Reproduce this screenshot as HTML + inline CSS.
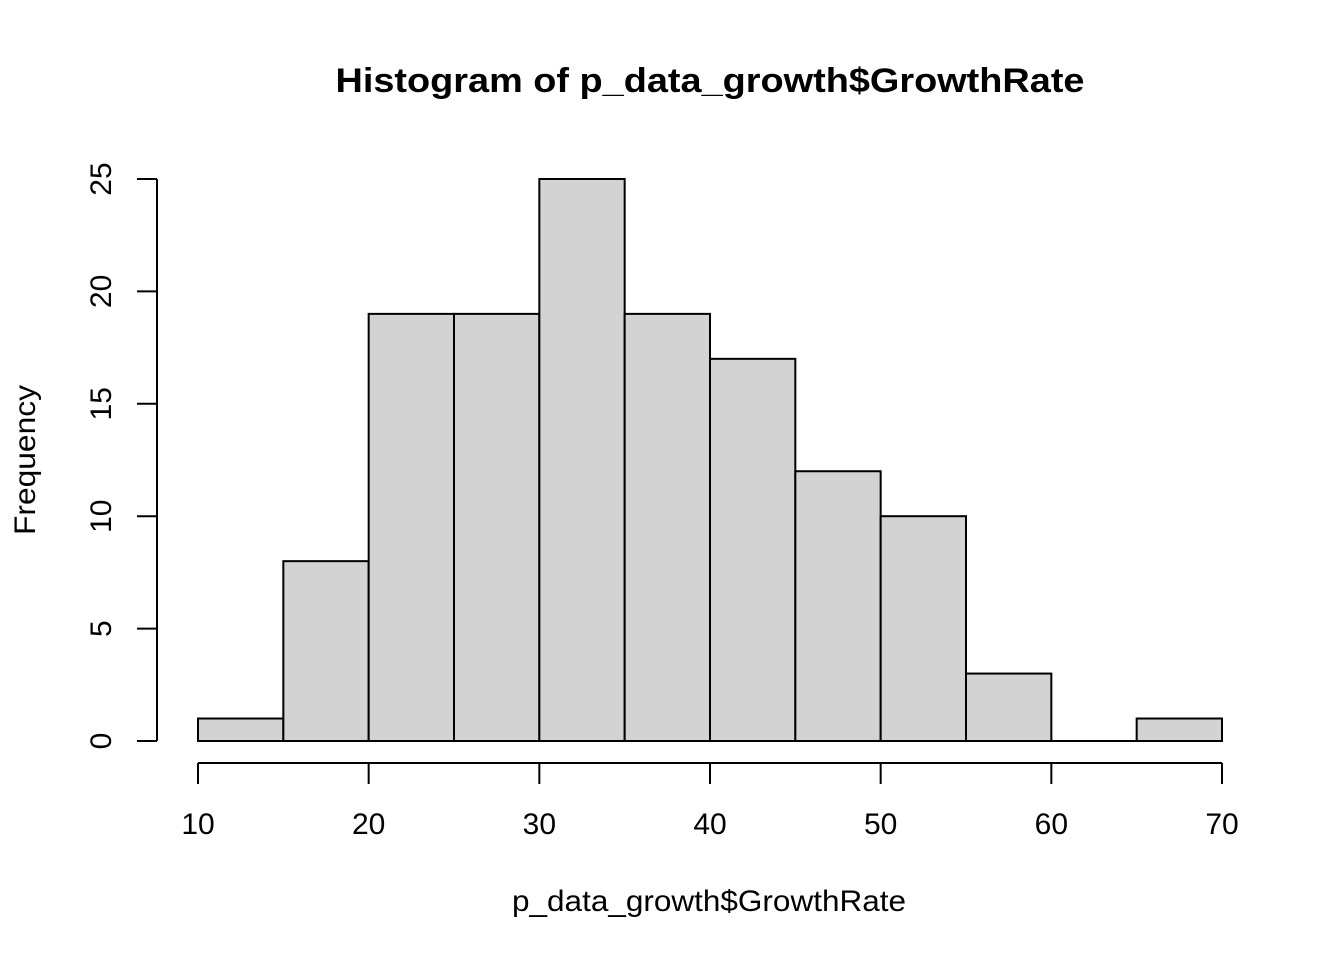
<!DOCTYPE html>
<html><head><meta charset="utf-8"><style>
body{margin:0;background:#fff;}
svg{display:block;font-family:"Liberation Sans",Arial,sans-serif;}
</style></head><body>
<svg id="chart" width="1344" height="960">
<text x="710" y="92" text-anchor="middle" font-size="34" font-weight="bold" textLength="749" lengthAdjust="spacingAndGlyphs">Histogram of p_data_growth$GrowthRate</text>
<text x="709" y="911" text-anchor="middle" font-size="30" textLength="394" lengthAdjust="spacingAndGlyphs">p_data_growth$GrowthRate</text>
<text transform="translate(35,460) rotate(-90)" text-anchor="middle" font-size="30" textLength="150" lengthAdjust="spacingAndGlyphs">Frequency</text>
<g id="bars"></g><g id="xaxis"></g><g id="yaxis"></g>
</svg>
<script>
const binEdges=[10,15,20,25,30,35,40,45,50,55,60,65,70];
const counts=[1,8,19,19,25,19,17,12,10,3,0,1];
const xTicks=[10,20,30,40,50,60,70];
const yTicks=[0,5,10,15,20,25];
const NS="http://www.w3.org/2000/svg";
const xs=v=>198+(v-10)*(1222-198)/60;
const ys=v=>741-v*(741-179)/25;
function mk(tag,attrs,parent){const e=document.createElementNS(NS,tag);for(const k in attrs)e.setAttribute(k,attrs[k]);parent.appendChild(e);return e;}
const bars=document.getElementById('bars');
counts.forEach((c,i)=>{
  const x0=xs(binEdges[i]),x1=xs(binEdges[i+1]);
  let r;
  if(c===0){
    r=mk('line',{x1:x0,x2:x1,y1:ys(0),y2:ys(0),stroke:'#000','stroke-width':2},bars);
  } else {
    r=mk('rect',{x:x0,y:ys(c),width:x1-x0,height:ys(0)-ys(c),fill:'#d3d3d3',stroke:'#000','stroke-width':2},bars);
  }
  
  
});
const xa=document.getElementById('xaxis');
const xl=mk('line',{x1:xs(xTicks[0]),x2:xs(xTicks[xTicks.length-1]),y1:763,y2:763,stroke:'#000','stroke-width':2},xa);


xTicks.forEach(t=>{
  mk('line',{x1:xs(t),x2:xs(t),y1:763,y2:784,stroke:'#000','stroke-width':2},xa);
  const tx=mk('text',{x:xs(t),y:834,'text-anchor':'middle','font-size':30},xa);
  tx.textContent=t;
  
  
});
const ya=document.getElementById('yaxis');
const yl=mk('line',{x1:157,x2:157,y1:ys(yTicks[0]),y2:ys(yTicks[yTicks.length-1]),stroke:'#000','stroke-width':2},ya);


yTicks.forEach(t=>{
  mk('line',{x1:137,x2:157,y1:ys(t),y2:ys(t),stroke:'#000','stroke-width':2},ya);
  const tx=mk('text',{transform:'translate(111,'+ys(t)+') rotate(-90)','text-anchor':'middle','font-size':30},ya);
  tx.textContent=t;
  
  
});
</script>
</body></html>
